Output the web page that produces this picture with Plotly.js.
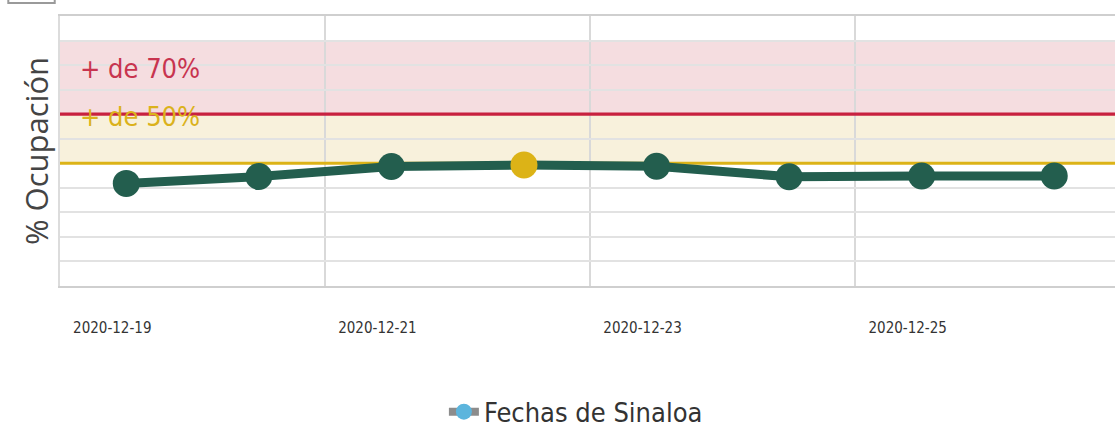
<!DOCTYPE html>
<html>
<head>
<meta charset="utf-8">
<script src="https://cdn.plot.ly/plotly-3.0.1.min.js"></script>
<style>
  html, body { margin: 0; padding: 0; background: #ffffff; }
  #chart { width: 1115px; height: 440px; }
</style>
</head>
<body>
<div id="chart"></div>
<script>
// ---- data ----
const fechas = ['2020-12-19', '2020-12-20', '2020-12-21', '2020-12-22',
                '2020-12-23', '2020-12-24', '2020-12-25', '2020-12-26'];
const ocupacion = [41.8, 44.6, 48.7, 49.3, 48.8, 44.5, 44.8, 44.8];
const tickFechas = ['2020-12-19', '2020-12-21', '2020-12-23', '2020-12-25'];
const rangoFechas = ['2020-12-18 12:00', '2020-12-26 11:00'];
const umbralAlto = 70;   // + de 70%
const umbralMedio = 50;  // + de 50%
const topeBanda = 100;
const serieNombre = 'Fechas de Sinaloa';
const etiquetaAlto = '+ de 70%';
const etiquetaMedio = '+ de 50%';

const NARROW = '"Liberation Sans Narrow", "DejaVu Sans Condensed", "Roboto Condensed", "Open Sans", sans-serif';
const GREEN = '#235e4e';
const YELLOW = '#dcb317';
const RED = '#c8213f';

const maxVal = Math.max(...ocupacion);
const markerColors = ocupacion.map(v => v === maxVal ? YELLOW : GREEN);

const traces = [
  {
    x: rangoFechas, y: [umbralAlto, umbralAlto], type: 'scatter', mode: 'lines',
    line: { color: RED, width: 3.2 }, showlegend: false, hoverinfo: 'skip'
  },
  {
    x: rangoFechas, y: [umbralMedio, umbralMedio], type: 'scatter', mode: 'lines',
    line: { color: YELLOW, width: 3.2 }, showlegend: false, hoverinfo: 'skip'
  },
  {
    x: fechas, y: ocupacion, type: 'scatter', mode: 'lines+markers',
    line: { color: GREEN, width: 9 },
    marker: { color: markerColors, size: 27 },
    showlegend: false, hoverinfo: 'x+y'
  },
  {
    x: [null], y: [null], type: 'scatter', mode: 'lines+markers',
    name: serieNombre,
    line: { color: '#8c8c8c', width: 8 },
    marker: { color: '#5cb5dd', size: 26 },
    showlegend: true
  }
];

const layout = {
  width: 1115, height: 440,
  margin: { l: 60, r: 0, t: 16, b: 154 },
  paper_bgcolor: '#ffffff', plot_bgcolor: '#ffffff',
  font: { family: NARROW, color: '#333' },
  xaxis: {
    type: 'date',
    range: rangoFechas,
    tickmode: 'array', tickvals: tickFechas, ticktext: tickFechas,
    ticks: '', showgrid: false, zeroline: false,
    ticklabelshift: -14, ticklabelstandoff: 27,
    tickfont: { family: NARROW, size: 15, color: '#333' },
    showline: true, linecolor: '#cfcfcf', linewidth: 1.5, mirror: true,
    minor: { tick0: '2020-12-18 12:00', dtick: 172800000, showgrid: true,
             gridcolor: '#d9d9d9', gridwidth: 1.5, ticks: '' },
    fixedrange: true
  },
  yaxis: {
    range: [0, 110], dtick: 10, tick0: 0,
    showticklabels: false, ticks: '',
    showgrid: true, gridcolor: '#e2e2e2', gridwidth: 1.5, zeroline: false,
    showline: true, linecolor: '#dcdcdc', linewidth: 1.5, mirror: true,
    title: { text: '% Ocupación', standoff: 0,
             font: { family: '"Open Sans", sans-serif', size: 31, color: '#444' } },
    automargin: false,
    fixedrange: true
  },
  shapes: [
    { type: 'rect', xref: 'paper', yref: 'y', x0: 0, x1: 1, y0: umbralAlto, y1: topeBanda,
      fillcolor: '#f5dde0', line: { width: 0 }, layer: 'below' },
    { type: 'rect', xref: 'paper', yref: 'y', x0: 0, x1: 1, y0: umbralMedio, y1: umbralAlto,
      fillcolor: '#f8f1dc', line: { width: 0 }, layer: 'below' },
    { type: 'rect', xref: 'paper', yref: 'paper', x0: -0.049, x1: -0.005, y0: 1.048, y1: 1.09,
      fillcolor: 'rgba(0,0,0,0)', line: { color: '#9a9a9a', width: 2 }, layer: 'above' }
  ],
  annotations: [
    { xref: 'paper', yref: 'y', x: 0, y: 88.8, xanchor: 'left', yanchor: 'middle', xshift: 18,
      text: etiquetaAlto, showarrow: false,
      font: { family: NARROW, size: 27, color: '#c8344f' } },
    { xref: 'paper', yref: 'y', x: 0, y: 69, xanchor: 'left', yanchor: 'middle', xshift: 18,
      text: etiquetaMedio, showarrow: false,
      font: { family: NARROW, size: 27, color: '#dbb21c' } }
  ],
  legend: {
    orientation: 'h', x: 0.489, xanchor: 'center', y: -0.467, yanchor: 'middle',
    font: { family: NARROW, size: 27, color: '#333' },
    bgcolor: 'rgba(0,0,0,0)'
  },
  hovermode: 'closest'
};

Plotly.newPlot('chart', traces, layout, { displayModeBar: false });
</script>
</body>
</html>
